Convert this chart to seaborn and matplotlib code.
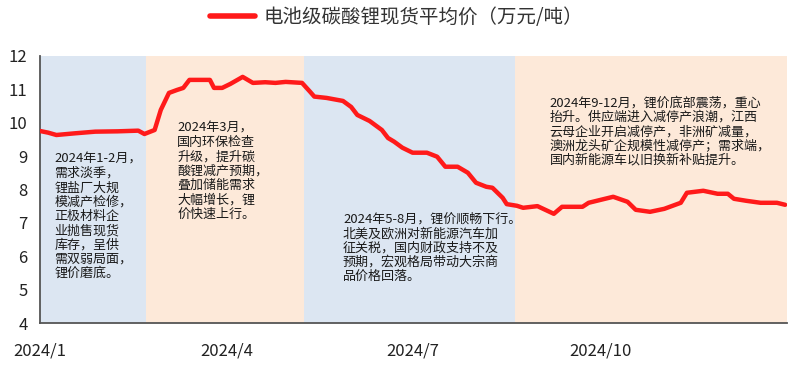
import matplotlib
matplotlib.use("Agg")
import matplotlib.pyplot as plt
import matplotlib.dates as mdates
import seaborn as sns
import pandas as pd
import numpy as np

# ---- data ----
dates = ["2024-01-01", "2024-01-05", "2024-01-09", "2024-01-18", "2024-01-28", "2024-02-08",
         "2024-02-18", "2024-02-21", "2024-02-26", "2024-02-29", "2024-03-04", "2024-03-08",
         "2024-03-11", "2024-03-14", "2024-03-24", "2024-03-26", "2024-03-30", "2024-04-03",
         "2024-04-09", "2024-04-14", "2024-04-20", "2024-04-25", "2024-04-30", "2024-05-08",
         "2024-05-12", "2024-05-14", "2024-05-20", "2024-05-28", "2024-06-01", "2024-06-04",
         "2024-06-10", "2024-06-16", "2024-06-19", "2024-06-22", "2024-06-26", "2024-07-01",
         "2024-07-08", "2024-07-13", "2024-07-17", "2024-07-23", "2024-07-28", "2024-08-01",
         "2024-08-06", "2024-08-09", "2024-08-14", "2024-08-16", "2024-08-21", "2024-08-24",
         "2024-08-31", "2024-09-08", "2024-09-12", "2024-09-22", "2024-09-25", "2024-10-07",
         "2024-10-14", "2024-10-18", "2024-10-25", "2024-11-01", "2024-11-09", "2024-11-12",
         "2024-11-20", "2024-11-27", "2024-12-02", "2024-12-05", "2024-12-11", "2024-12-18",
         "2024-12-26", "2024-12-30"]
prices = [9.75, 9.70, 9.63, 9.68, 9.73, 9.74,
          9.76, 9.66, 9.78, 10.38, 10.89, 10.98,
          11.04, 11.28, 11.28, 11.04, 11.04, 11.16,
          11.37, 11.19, 11.21, 11.19, 11.22, 11.19,
          10.92, 10.78, 10.74, 10.65, 10.47, 10.23,
          10.05, 9.78, 9.54, 9.43, 9.25, 9.10,
          9.10, 8.98, 8.68, 8.68, 8.50, 8.20,
          8.08, 8.05, 7.75, 7.56, 7.51, 7.45,
          7.50, 7.27, 7.48, 7.48, 7.60, 7.78,
          7.63, 7.39, 7.33, 7.42, 7.60, 7.90,
          7.96, 7.87, 7.87, 7.72, 7.66, 7.60,
          7.60, 7.54]

band_starts = ["2024-01-01", "2024-02-22", "2024-05-09", "2024-08-20"]
band_ends = ["2024-02-22", "2024-05-09", "2024-08-20", "2024-12-31"]
band_colors = ["#dce6f2", "#fde9d9", "#dce6f2", "#fde9d9"]

xtick_dates = ["2024-01-01", "2024-04-01", "2024-07-01", "2024-10-01"]
xtick_labels = ["2024/1", "2024/4", "2024/7", "2024/10"]
yticks = [4, 5, 6, 7, 8, 9, 10, 11, 12]

series_name = "电池级碳酸锂现货平均价（万元/吨）"

note_texts = [
    "2024年1-2月，\n需求淡季，\n锂盐厂大规\n模减产检修，\n正极材料企\n业抛售现货\n库存，呈供\n需双弱局面，\n锂价磨底。",
    "2024年3月，\n国内环保检查\n升级，提升碳\n酸锂减产预期，\n叠加储能需求\n大幅增长，锂\n价快速上行。",
    "2024年5-8月，锂价顺畅下行。\n北美及欧洲对新能源汽车加\n征关税，国内财政支持不及\n预期，宏观格局带动大宗商\n品价格回落。",
    "2024年9-12月，锂价底部震荡，重心\n抬升。供应端进入减停产浪潮，江西\n云母企业开启减停产，非洲矿减量，\n澳洲龙头矿企规模性减停产；需求端，\n国内新能源车以旧换新补贴提升。",
]
note_dates = ["2024-01-08", "2024-03-08", "2024-05-28", "2024-09-06"]
note_y = [9.1, 10.02, 7.3, 10.78]

# ---- plot ----
sns.set_style("white")
plt.rcParams["font.family"] = ["Noto Sans CJK SC", "DejaVu Sans"]

df = pd.DataFrame({"date": pd.to_datetime(dates), "price": prices, "series": series_name})

fig = plt.figure(figsize=(8.0, 3.65), dpi=100)
ax = fig.add_axes([0.05, 0.115, 0.934, 0.732])

for s, e, c in zip(band_starts, band_ends, band_colors):
    ax.axvspan(pd.Timestamp(s), pd.Timestamp(e), color=c, lw=0, zorder=0)

sns.lineplot(data=df, x="date", y="price", hue="series", palette=["#ff1a1a"],
             linewidth=3.2, ax=ax, legend=True, zorder=3)

ax.set_xlim(pd.Timestamp("2024-01-01"), pd.Timestamp("2024-12-31"))
ax.set_ylim(4, 12)
ax.set_yticks(yticks)
ax.set_yticklabels([str(v) for v in yticks])
ax.set_xticks(pd.to_datetime(xtick_dates))
ax.set_xticklabels(xtick_labels)
ax.set_xlabel("")
ax.set_ylabel("")

for sp in ["top", "right"]:
    ax.spines[sp].set_visible(False)
for sp in ["left", "bottom"]:
    ax.spines[sp].set_color("#555555")
    ax.spines[sp].set_linewidth(1.3)

ax.tick_params(axis="both", direction="in", length=5, width=1.1, color="#555555",
               labelsize=12, labelcolor="#222222")
ax.tick_params(axis="x", pad=14)
ax.tick_params(axis="y", pad=9)

for t, d, y in zip(note_texts, note_dates, note_y):
    ax.text(pd.Timestamp(d), y, t, fontsize=9.4, color="#1a1a1a", va="top", ha="left",
            linespacing=1.13, zorder=4)

leg = ax.legend(loc="upper center", bbox_to_anchor=(0.477, 1.25), frameon=False,
                fontsize=14, handlelength=2.3, handletextpad=0.45)
for txt in leg.get_texts():
    txt.set_color("#333333")
for line in leg.get_lines():
    line.set_linewidth(4)

fig.savefig("out.png", dpi=100)
